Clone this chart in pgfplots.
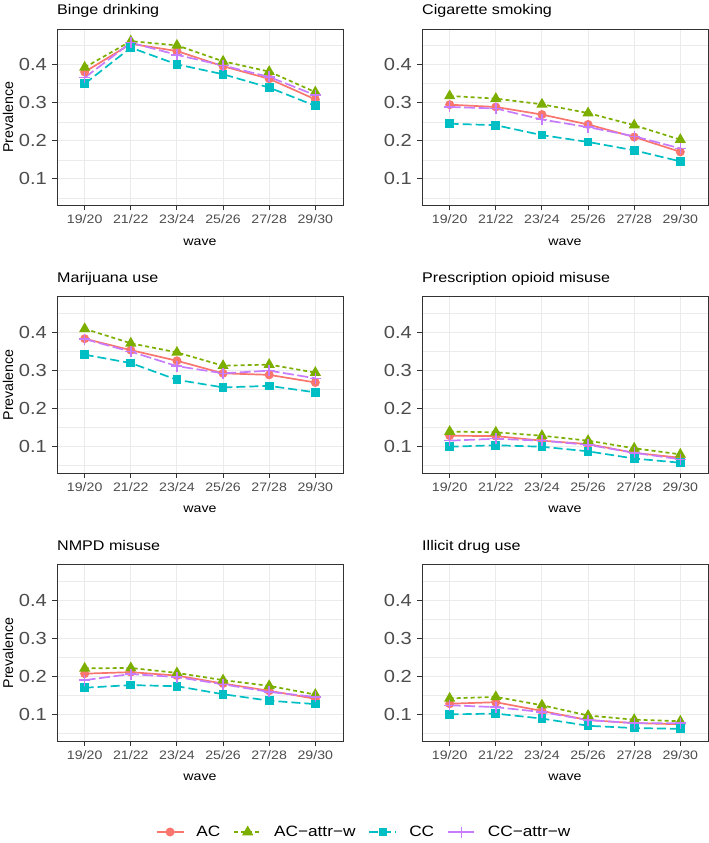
\documentclass[border=0pt]{standalone}
\usepackage{pgfplots}
\pgfplotsset{compat=1.18}
\usepackage{pgfplotstable}
\usepackage{fontspec}
\setmainfont{Liberation Sans}[FakeStretch=1.15]
\newfontfamily\plainfont{Liberation Sans}

\definecolor{acred}{HTML}{F8766D}
\definecolor{acwgreen}{HTML}{7CAE00}
\definecolor{cccyan}{HTML}{00BFC4}
\definecolor{ccwpurple}{HTML}{C77CFF}
\definecolor{gray20}{HTML}{333333}
\definecolor{gray30}{HTML}{4D4D4D}
\definecolor{grey92}{HTML}{EBEBEB}

\pgfplotstableread{
x ac acw cc ccw
0 0.381 0.393 0.350 0.366
1 0.455 0.462 0.445 0.458
2 0.436 0.451 0.401 0.426
3 0.396 0.409 0.375 0.398
4 0.363 0.382 0.340 0.368
5 0.309 0.328 0.292 0.320
}\binge
\pgfplotstableread{
x ac acw cc ccw
0 0.295 0.318 0.245 0.289
1 0.289 0.311 0.241 0.285
2 0.269 0.296 0.215 0.256
3 0.243 0.273 0.197 0.236
4 0.210 0.241 0.175 0.212
5 0.171 0.203 0.146 0.180
}\cig
\pgfplotstableread{
x ac acw cc ccw
0 0.383 0.409 0.341 0.382
1 0.353 0.371 0.319 0.349
2 0.325 0.347 0.275 0.311
3 0.292 0.312 0.255 0.292
4 0.288 0.315 0.259 0.299
5 0.268 0.294 0.242 0.279
}\mari
\pgfplotstableread{
x ac acw cc ccw
0 0.128 0.139 0.099 0.115
1 0.127 0.137 0.103 0.120
2 0.115 0.128 0.099 0.115
3 0.106 0.115 0.087 0.104
4 0.083 0.095 0.068 0.083
5 0.070 0.079 0.057 0.066
}\opioid
\pgfplotstableread{
x ac acw cc ccw
0 0.207 0.221 0.170 0.190
1 0.211 0.222 0.177 0.206
2 0.202 0.209 0.174 0.198
3 0.181 0.190 0.153 0.179
4 0.162 0.175 0.136 0.159
5 0.141 0.152 0.127 0.146
}\nmpd
\pgfplotstableread{
x ac acw cc ccw
0 0.128 0.142 0.100 0.124
1 0.132 0.146 0.102 0.119
2 0.109 0.124 0.089 0.106
3 0.085 0.097 0.070 0.085
4 0.077 0.086 0.064 0.077
5 0.074 0.082 0.062 0.077
}\illicit

\pgfplotsset{
  panel/.style={
    scale only axis, width=286pt, height=176.5pt, anchor=south west,
    xmin=-0.6, xmax=5.6, ymin=0.030, ymax=0.494,
    xtick={0,1,2,3,4,5},
    xticklabels={\mbox{19/20},\mbox{21/22},\mbox{23/24},\mbox{25/26},\mbox{27/28},\mbox{29/30}},
    ytick={0.1,0.2,0.3,0.4}, yticklabels={\mbox{0.1},\mbox{0.2},\mbox{0.3},\mbox{0.4}},
    minor ytick={0.05,0.15,0.25,0.35,0.45},
    grid=both,
    major grid style={color=grey92, line width=1.1pt},
    minor grid style={color=grey92, line width=0.55pt},
    axis line style={color=gray20, line width=0.9pt},
    every tick/.style={color=gray20, line width=0.9pt},
    tick align=outside, xtick pos=left, ytick pos=left,
    major tick length=5pt, minor tick length=0pt,
    yticklabel style={font=\fontsize{17.5}{19}\selectfont, color=gray30, inner sep=0pt, xshift=-5pt},
    xticklabel style={font=\fontsize{12.3}{14}\selectfont, color=gray30, inner sep=0pt, yshift=-4pt},
    title style={at={(axis description cs:0,1)}, anchor=base west, yshift=8pt, inner sep=0pt, font=\fontsize{14}{16}\selectfont},
    xlabel=wave,
    xlabel style={at={(axis description cs:0.5,-0.2266)}, anchor=base, inner sep=0pt, font=\fontsize{12.3}{14}\selectfont},
    ylabel style={at={(axis description cs:-0.1538,0.5)}, anchor=base, inner sep=0pt, font=\plainfont\fontsize{14.2}{16}\selectfont},
    legend image code/.code={\draw[mark repeat=2,mark phase=2,#1] plot coordinates {(0pt,0pt) (13.5pt,0pt) (27pt,0pt)};},
  },
  acstyle/.style={color=acred, line width=1.7pt, mark=*, mark size=3.6pt, mark options={solid}},
  acwstyle/.style={color=acwgreen, line width=1.7pt, dash pattern=on 4pt off 3pt, mark=triangle*, mark size=4.8pt, mark options={solid}},
  ccstyle/.style={color=cccyan, line width=1.7pt, dash pattern=on 9pt off 4pt, mark=square*, mark size=3.5pt, mark options={solid}},
  ccwstyle/.style={color=ccwpurple, line width=1.7pt, dash pattern=on 11pt off 3.5pt, mark=+, mark size=5.5pt, mark options={solid, line width=1.4pt}},
}

\newcommand{\panel}[4]{%
\begin{axis}[panel, at={#1}, title={#2}, #4]
\addplot[acstyle] table[x=x,y=ac]{#3};
\addplot[acwstyle] table[x=x,y=acw]{#3};
\addplot[ccstyle] table[x=x,y=cc]{#3};
\addplot[ccwstyle] table[x=x,y=ccw]{#3};
\end{axis}}

\begin{document}
\begin{tikzpicture}[x=1pt,y=1pt]
\path[use as bounding box] (0,0) rectangle (709,843);
\panel{(57pt,637.5pt)}{Binge drinking}{\binge}{ylabel=Prevalence}
\panel{(422pt,637.5pt)}{Cigarette smoking}{\cig}{}
\panel{(57pt,370pt)}{Marijuana use}{\mari}{ylabel=Prevalence}
\panel{(422pt,370pt)}{Prescription opioid misuse}{\opioid}{}
\panel{(57pt,102pt)}{NMPD misuse}{\nmpd}{ylabel=Prevalence,
  legend entries={AC,AC−attr−w,CC,CC−attr−w},
  legend columns=4,
  legend style={at={(axis description cs:1.0717,-0.5156)}, anchor=center, draw=none, fill=none,
    font=\fontsize{15}{17}\selectfont, column sep=0pt,
    /tikz/every odd column/.append style={column sep=11pt},
    /tikz/every even column/.append style={column sep=12pt},
    nodes={inner sep=1pt}},
  legend cell align=left}
\panel{(422pt,102pt)}{Illicit drug use}{\illicit}{}
\end{tikzpicture}
\end{document}
